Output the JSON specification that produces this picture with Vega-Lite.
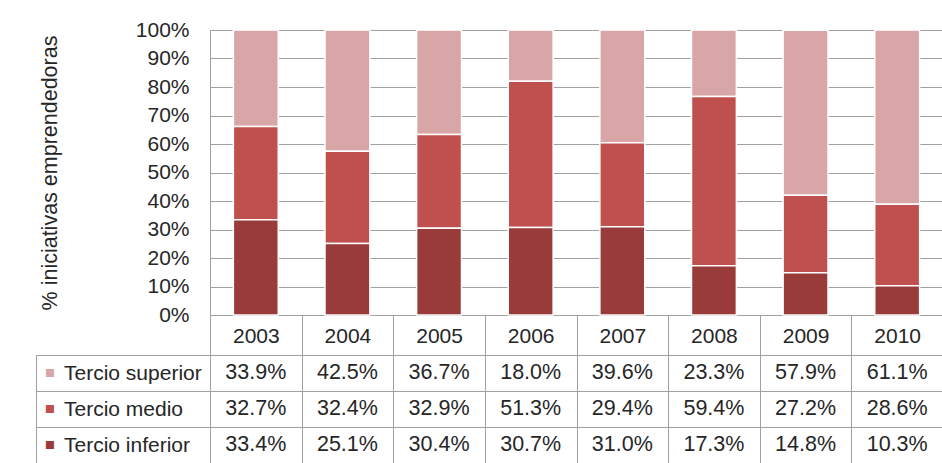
{
  "$schema": "https://vega.github.io/schema/vega-lite/v6.json",
  "padding": {"left": 35, "top": 19, "right": 0, "bottom": 0},
  "bounds": "flush",
  "spacing": 40,
  "data": {
    "values": [
      {"year": "2003", "serie": "Tercio superior", "pct": 0.339},
      {"year": "2003", "serie": "Tercio medio", "pct": 0.327},
      {"year": "2003", "serie": "Tercio inferior", "pct": 0.334},
      {"year": "2004", "serie": "Tercio superior", "pct": 0.425},
      {"year": "2004", "serie": "Tercio medio", "pct": 0.324},
      {"year": "2004", "serie": "Tercio inferior", "pct": 0.251},
      {"year": "2005", "serie": "Tercio superior", "pct": 0.367},
      {"year": "2005", "serie": "Tercio medio", "pct": 0.329},
      {"year": "2005", "serie": "Tercio inferior", "pct": 0.304},
      {"year": "2006", "serie": "Tercio superior", "pct": 0.18},
      {"year": "2006", "serie": "Tercio medio", "pct": 0.513},
      {"year": "2006", "serie": "Tercio inferior", "pct": 0.307},
      {"year": "2007", "serie": "Tercio superior", "pct": 0.396},
      {"year": "2007", "serie": "Tercio medio", "pct": 0.294},
      {"year": "2007", "serie": "Tercio inferior", "pct": 0.31},
      {"year": "2008", "serie": "Tercio superior", "pct": 0.233},
      {"year": "2008", "serie": "Tercio medio", "pct": 0.594},
      {"year": "2008", "serie": "Tercio inferior", "pct": 0.173},
      {"year": "2009", "serie": "Tercio superior", "pct": 0.579},
      {"year": "2009", "serie": "Tercio medio", "pct": 0.272},
      {"year": "2009", "serie": "Tercio inferior", "pct": 0.148},
      {"year": "2010", "serie": "Tercio superior", "pct": 0.611},
      {"year": "2010", "serie": "Tercio medio", "pct": 0.286},
      {"year": "2010", "serie": "Tercio inferior", "pct": 0.103}
    ]
  },
  "vconcat": [
    {
      "width": 733,
      "height": 285,
      "mark": {"type": "bar", "stroke": "white", "strokeWidth": 1.5},
      "encoding": {
        "x": {
          "field": "year",
          "type": "ordinal",
          "scale": {"paddingInner": 0.51, "paddingOuter": 0.255},
          "axis": null
        },
        "y": {
          "field": "pct",
          "type": "quantitative",
          "stack": "zero",
          "scale": {"domain": [0, 1], "nice": false},
          "axis": {
            "values": [0, 0.1, 0.2, 0.3, 0.4, 0.5, 0.6, 0.7, 0.8, 0.9, 1],
            "format": ".0%",
            "title": "% iniciativas emprendedoras",
            "titleFontSize": 21.5,
            "titlePadding": 74,
            "ticks": false,
            "labelPadding": 21,
            "grid": true
          }
        },
        "color": {
          "field": "serie",
          "type": "nominal",
          "scale": {
            "domain": ["Tercio superior", "Tercio medio", "Tercio inferior"],
            "range": ["#d9a6a8", "#c0504d", "#9a3b3b"]
          },
          "legend": null
        },
        "order": {"field": "serie", "sort": "ascending"}
      }
    },
    {
      "width": 733,
      "height": 108,
      "layer": [
        {
          "mark": {"type": "text", "fontSize": 21.5, "font": "Liberation Sans", "color": "#262626"},
          "encoding": {
            "x": {
              "field": "year",
              "type": "ordinal",
              "scale": {"padding": 0},
              "axis": {
                "orient": "top",
                "title": null,
                "labelAngle": 0,
                "tickBand": "extent",
                "tickSize": 40,
                "labelPadding": -21,
                "labelBaseline": "middle",
                "grid": true
              }
            },
            "y": {
              "field": "serie",
              "type": "nominal",
              "sort": ["Tercio superior", "Tercio medio", "Tercio inferior"],
              "scale": {"padding": 0},
              "axis": {
                "orient": "left",
                "title": null,
                "tickBand": "extent",
                "tickSize": 174,
                "labelPadding": -27.5,
                "labelAlign": "left",
                "grid": true
              }
            },
            "text": {"field": "pct", "type": "quantitative", "format": ".1%"}
          }
        },
        {
          "mark": {"type": "text", "opacity": 0},
          "encoding": {
            "x": {"field": "year", "type": "ordinal"},
            "y": {
              "field": "serie",
              "type": "nominal",
              "sort": ["Tercio superior", "Tercio medio", "Tercio inferior"],
              "axis": {
                "orient": "left",
                "title": null,
                "offset": 174,
                "ticks": false,
                "grid": false,
                "labelExpr": "'■'",
                "labelFont": "DejaVu Sans",
                "labelFontSize": 10.5,
                "labelAlign": "center",
                "labelPadding": -13.5,
                "labelColor": {
                  "condition": [
                    {"test": "datum.value === 'Tercio superior'", "value": "#d9a6a8"},
                    {"test": "datum.value === 'Tercio medio'", "value": "#c0504d"}
                  ],
                  "value": "#9a3b3b"
                }
              }
            },
            "text": {"value": ""}
          }
        }
      ],
      "resolve": {"axis": {"y": "independent"}}
    }
  ],
  "resolve": {"scale": {"x": "independent"}},
  "config": {
    "view": {"stroke": null},
    "font": "Liberation Sans",
    "axis": {
      "labelFont": "Liberation Sans",
      "labelFontSize": 21,
      "labelColor": "#262626",
      "titleFont": "Liberation Sans",
      "titleFontSize": 21,
      "titleFontWeight": "normal",
      "titleColor": "#262626",
      "gridColor": "#a0a0a0",
      "domainColor": "#a0a0a0",
      "tickColor": "#a0a0a0",
      "gridOpacity": 1
    }
  }
}
